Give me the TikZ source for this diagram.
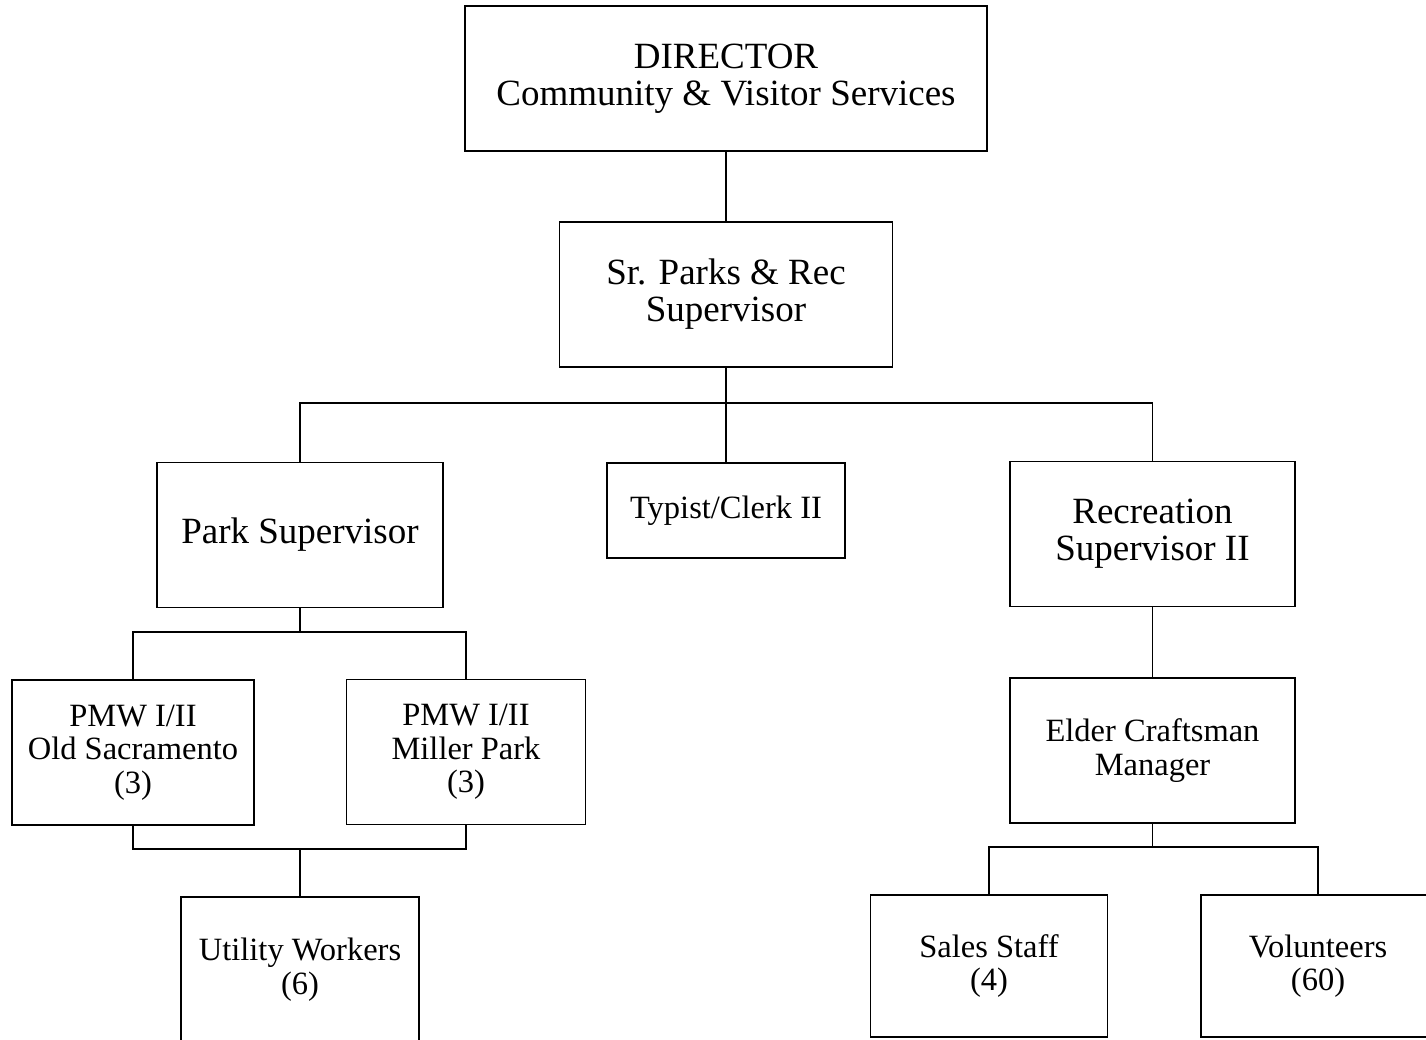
\documentclass[tikz,border=0pt]{standalone}
\usepackage{fontspec}
\setmainfont{Liberation Serif}
\usepackage{tikz}
\usetikzlibrary{positioning,calc}
\tikzset{
  post/.style  = {draw, line width=1.5pt, inner sep=0pt, align=center,
                  minimum height=145pt, font=\fontsize{37}{37}\selectfont},
  spost/.style = {draw, line width=1.5pt, inner sep=0pt, align=center,
                  minimum height=145pt, font=\fontsize{32.5}{33.5}\selectfont},
  link/.style  = {line width=1.5pt}
}

\begin{document}
\begin{tikzpicture}[x=1pt, y=-1pt]

  \useasboundingbox (0,0) rectangle (1426,1039);
  \clip (0,0) rectangle (1426,1039);

  %% -- Posts -------------------------------------------------------
  \node[post, minimum width=522pt] (director) at (726, 78.5)
    {DIRECTOR\\Community \& Visitor Services};
  \node[post, minimum width=333pt] (srparks)  at (726,294.5)
    {Sr. Parks \& Rec\\Supervisor};
  \node[post, minimum width=286pt] (parksup)  at (300,535)
    {Park Supervisor};
  \node[spost, minimum width=238pt, minimum height=95pt] (typist) at (726,510.5)
    {Typist/Clerk II};
  \node[post, minimum width=285pt] (recsup)   at (1152.5,534)
    {Recreation\\Supervisor II};

  \node[spost, minimum width=242pt] (pmwold) at (133,752.5)
    {PMW I/II\\Old Sacramento\\(3)};
  \node[spost, minimum width=239pt] (pmwmil) at (466,752)
    {PMW I/II\\Miller Park\\(3)};
  \node[spost, minimum width=285pt] (elder)  at (1152.5,750.5)
    {Elder Craftsman\\Manager};

  \node[spost, minimum width=238pt] (utility) at (300,969.5)
    {Utility Workers\\(6)};
  \node[spost, minimum width=237pt, minimum height=142pt] (sales) at (989,966)
    {Sales Staff\\(4)};
  \node[spost, minimum width=234pt, minimum height=142pt] (volun) at (1318,966)
    {Volunteers\\(60)};

  %% -- Bus points --------------------------------------------------
  \coordinate (busTop)   at (726,403);
  \coordinate (busPark)  at (300,632);
  \coordinate (busPmw)   at (300,849);
  \coordinate (busElder) at (1152.5,847);

  %% -- Connectors --------------------------------------------------
  \draw[link] (director) -- (srparks);
  \draw[link] (srparks) -- (busTop);
  \draw[link] (parksup.north) |- (busTop) -| (recsup.north);
  \draw[link] (busTop) -- (typist.north);

  % park side
  \draw[link] (parksup.south) -- (busPark);
  \draw[link] (pmwold.north) |- (busPark) -| (pmwmil.north);
  \draw[link] (pmwold.south) |- (busPmw) -| (pmwmil.south);
  \draw[link] (busPmw) -- (utility.north);

  % recreation side
  \draw[link] (recsup) -- (elder);
  \draw[link] (elder.south) -- (busElder);
  \draw[link] (sales.north) |- (busElder) -| (volun.north);

\end{tikzpicture}
\end{document}
